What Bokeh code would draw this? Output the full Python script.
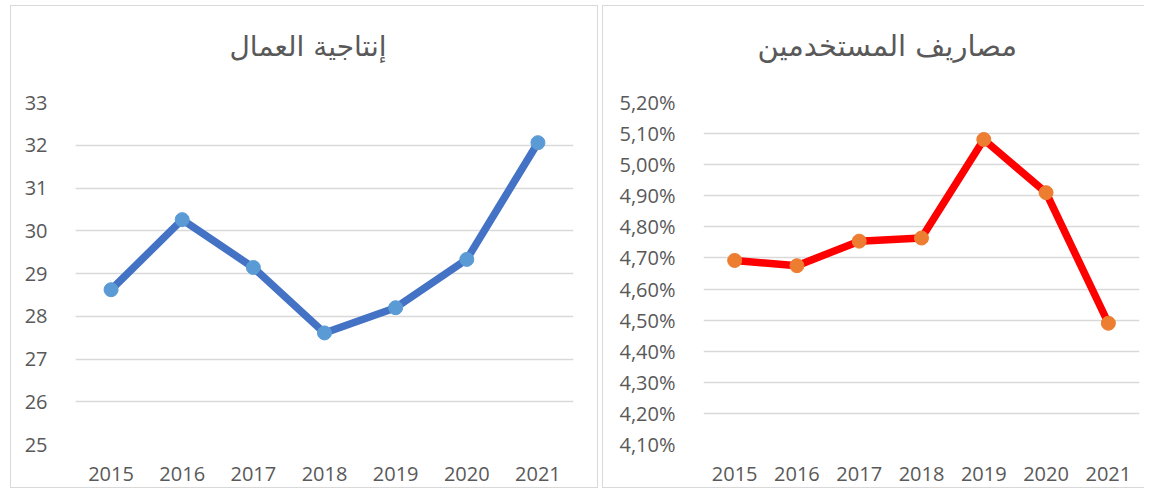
from bokeh.plotting import figure
from bokeh.layouts import row
from bokeh.models import FactorRange, Range1d, FixedTicker, CustomJSTickFormatter, Title
from bokeh.embed import file_html
from bokeh.resources import INLINE

years = ["2015", "2016", "2017", "2018", "2019", "2020", "2021"]
productivity = [28.62, 30.26, 29.14, 27.61, 28.20, 29.33, 32.06]
expenses_pct = [4.692, 4.675, 4.754, 4.764, 5.081, 4.910, 4.490]

title_left = "إنتاجية العمال"
title_right = "مصاريف المستخدمين"
left_ticks = [25, 26, 27, 28, 29, 30, 31, 32, 33]
right_ticks = [4.1, 4.2, 4.3, 4.4, 4.5, 4.6, 4.7, 4.8, 4.9, 5.0, 5.1, 5.2]

TICK_FONT = "Open Sans"
TICK_COLOR = "#595959"
GRID = "#d9d9d9"


def style(p, ttl, offset, size, gap):
    # spacer between frame and title (closest to the frame)
    p.add_layout(Title(text=" ", text_font_size="1px", standoff=gap), "above")
    p.add_layout(Title(text=ttl, align="left", text_font_size=size,
                       text_font="DejaVu Sans", text_color="#595959",
                       text_font_style="normal", standoff=40, offset=offset),
                 "above")
    p.xgrid.grid_line_color = None
    p.ygrid.grid_line_color = GRID
    p.ygrid.grid_line_width = 1.5
    p.outline_line_color = None
    for ax in (p.xaxis, p.yaxis):
        ax.axis_line_color = None
        ax.major_tick_line_color = None
        ax.minor_tick_line_color = None
        ax.major_label_text_font = TICK_FONT
        ax.major_label_text_font_size = "20px"
        ax.major_label_text_color = TICK_COLOR
    p.xaxis.major_label_standoff = 16
    p.yaxis.major_label_standoff = 22
    p.background_fill_color = "white"
    p.border_fill_color = "white"


p1 = figure(width=588, height=483, x_range=FactorRange(*years),
            y_range=Range1d(25, 33), output_backend="svg", title=None,
            toolbar_location=None, min_border_left=64, min_border_right=26,
            min_border_top=95, min_border_bottom=45, margin=(5, 0, 0, 10))
style(p1, title_left, 154, "28px", 17)
p1.styles = {"border": "1px solid #d9d9d9", "box-sizing": "border-box"}
p1.yaxis.ticker = FixedTicker(ticks=left_ticks)
p1.line(years, productivity, line_color="#4472C4", line_width=7.5,
        line_join="round")
p1.scatter(years, productivity, size=14, fill_color="#5B9BD5",
           line_color="#5B9BD5")

p2 = figure(width=542, height=483, x_range=FactorRange(*years),
            y_range=Range1d(4.1, 5.2), output_backend="svg", title=None,
            toolbar_location=None, min_border_left=100, min_border_right=6,
            min_border_top=96, min_border_bottom=41, margin=(5, 0, 0, 4))
style(p2, title_right, 54, "29px", 17)
p2.styles = {"border-left": "1px solid #d9d9d9", "border-top": "1px solid #d9d9d9",
             "border-bottom": "1px solid #d9d9d9", "box-sizing": "border-box"}
p2.yaxis.ticker = FixedTicker(ticks=right_ticks)
p2.yaxis.formatter = CustomJSTickFormatter(
    code="return tick.toFixed(2).replace('.', ',') + '%';")
p2.line(years, expenses_pct, line_color="#FF0000", line_width=7.5,
        line_join="round")
p2.scatter(years, expenses_pct, size=14, fill_color="#ED7D31",
           line_color="#ED7D31")

layout = row(p1, p2)
open("out.html", "w").write(file_html(layout, INLINE))
